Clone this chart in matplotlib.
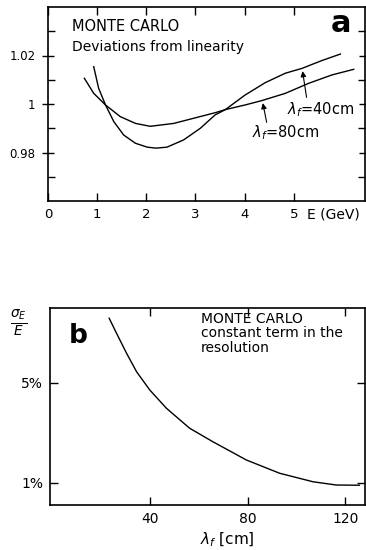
import matplotlib
matplotlib.use("Agg")
import matplotlib.pyplot as plt

# ---- Panel a data: deviations from linearity ----
E_40 = [0.93, 1.03, 1.17, 1.34, 1.54, 1.78, 2.02, 2.20, 2.42, 2.76, 3.10, 3.40, 3.61,
        4.01, 4.42, 4.83, 5.17, 5.57, 5.95]
dev_40 = [1.0154, 1.0065, 0.9996, 0.9927, 0.9872, 0.9838, 0.9822, 0.9818, 0.9822,
          0.9852, 0.9900, 0.9955, 0.9977, 1.0037, 1.0088, 1.0127, 1.0147, 1.0179, 1.0206]
E_80 = [0.74, 0.93, 1.17, 1.47, 1.78, 2.08, 2.56, 2.96, 3.40, 3.61, 4.01, 4.35, 4.83,
        5.30, 5.78, 6.22]
dev_80 = [1.0106, 1.0044, 0.9996, 0.9948, 0.9920, 0.9908, 0.9920, 0.9941, 0.9964,
          0.9977, 0.9996, 1.0014, 1.0044, 1.0085, 1.0120, 1.0143]
a_xticks = [0, 1, 2, 3, 4, 5]
a_yticks = [0.98, 1.0, 1.02]
a_yticklabels = ["0.98", "1", "1.02"]

# ---- Panel b data: constant term in the resolution ----
lam = [23.4, 26.4, 30.5, 34.6, 40.0, 46.8, 56.3, 65.8, 79.5, 93.1, 106.7, 116.2, 125.7]
const_term = [7.59, 6.99, 6.19, 5.45, 4.72, 3.99, 3.19, 2.65, 1.92, 1.39, 1.05, 0.92, 0.91]
b_xticks = [40, 80, 120]
b_yticks = [1, 5]
b_yticklabels = ["1%", "5%"]

plt.rcParams['font.family'] = ['DejaVu Sans']
W, H = 366, 550
fig = plt.figure(figsize=(W / 100, H / 100), dpi=100)

def px_axes(l, r, t, b):
    return fig.add_axes([l / W, 1 - b / H, (r - l) / W, (b - t) / H])

# ---------------- Panel a ----------------
ax = px_axes(48, 365, 7, 201)
ax.plot(E_40, dev_40, color='black', lw=1.0)
ax.plot(E_80, dev_80, color='black', lw=1.0)
ax.set_xlim(0, 6.45)
ax.set_ylim(0.96, 1.04)
ax.set_xticks(a_xticks)
ax.set_xticklabels([str(t) for t in a_xticks], fontsize=9.5)
ax.set_yticks(a_yticks)
ax.set_yticklabels(a_yticklabels, fontsize=8.5)
ax.set_yticks([0.97, 0.99, 1.01, 1.03], minor=True)
ax.tick_params(which='major', direction='in', top=True, right=True, length=6, width=1.0, pad=5)
ax.tick_params(axis='y', which='major', direction='inout', length=8)
ax.tick_params(which='minor', direction='in', right=True, length=5, width=1.0)
for s in ax.spines.values():
    s.set_linewidth(1.2)

ax.text(0.48, 1.032, "MONTE CARLO", fontsize=10.5, va='center', ha='left')
ax.text(0.48, 1.0236, "Deviations from linearity", fontsize=10, va='center', ha='left')
ax.text(5.97, 1.033, "a", fontsize=22, fontweight='bold', va='center', ha='center')

ax.annotate("", xy=(5.17, 1.0147), xytext=(5.27, 1.0016),
            arrowprops=dict(arrowstyle='-|>', lw=0.8, color='black', mutation_scale=8))
ax.annotate("", xy=(4.36, 1.0015), xytext=(4.46, 0.9913),
            arrowprops=dict(arrowstyle='-|>', lw=0.8, color='black', mutation_scale=8))
ax.text(4.87, 0.9975, r"$\lambda_f$=40cm", fontsize=10.5, va='center', ha='left')
ax.text(4.16, 0.9882, r"$\lambda_f$=80cm", fontsize=10.5, va='center', ha='left')
fig.text(333 / W, 1 - 215 / H, "E (GeV)", fontsize=10, va='center', ha='center')

# ---------------- Panel b ----------------
bx = px_axes(50, 365, 308, 505)
bx.plot(lam, const_term, color='black', lw=1.0)
bx.set_xlim(-0.8, 128)
bx.set_ylim(0.12, 8.0)
bx.set_xticks(b_xticks)
bx.set_xticklabels([str(t) for t in b_xticks], fontsize=10)
bx.set_yticks(b_yticks)
bx.set_yticklabels(b_yticklabels, fontsize=10)
bx.tick_params(direction='in', top=True, right=True, length=6, width=1.0, pad=5)
for s in bx.spines.values():
    s.set_linewidth(1.2)

bx.text(0.06, 0.86, "b", transform=bx.transAxes, fontsize=19, fontweight='bold',
        va='center', ha='left')
bx.text(61, 7.85, "MONTE CARLO\nconstant term in the\nresolution", fontsize=10,
        va='top', ha='left', linespacing=1.05)
fig.text(19 / W, 1 - 323 / H, r"$\frac{\sigma_E}{E}$", fontsize=14, va='center', ha='center')
fig.text(227 / W, 1 - 540 / H, r"$\lambda_f$ [cm]", fontsize=11, va='center', ha='center')

fig.savefig("out.png", dpi=100)
